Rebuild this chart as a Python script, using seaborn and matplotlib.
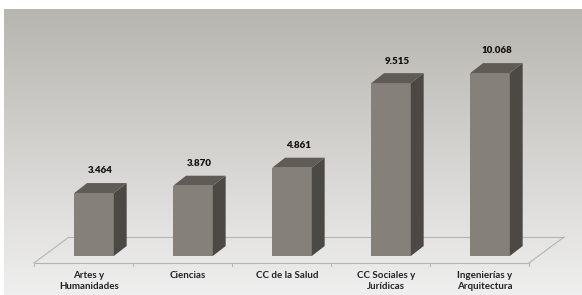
import numpy as np
import matplotlib
matplotlib.use("Agg")
import matplotlib.pyplot as plt
from matplotlib.patches import Polygon
import seaborn as sns

# Data
categories = ["Artes y\nHumanidades", "Ciencias", "CC de la Salud",
              "CC Sociales y\nJurídicas", "Ingenierías y\nArquitectura"]
values = [3464, 3870, 4861, 9515, 10068]
value_labels = ["3.464", "3.870", "4.861", "9.515", "10.068"]

# Colours
front_col = "#858079"
side_col = "#4c4944"
top_col = "#5f5b56"
floor_col = "#b4b4b4"

sns.set_theme(style="white")
plt.rcParams["font.family"] = ["Lato", "DejaVu Sans"]

fig = plt.figure(figsize=(5.82, 2.95), dpi=100)

# gradient background panel
bg = fig.add_axes([4 / 582, 0, 578 / 582, 286 / 295], zorder=0)
grad = np.linspace(0, 1, 256).reshape(-1, 1)
cmap = matplotlib.colors.LinearSegmentedColormap.from_list("bg", ["#b7b5af", "#d4d3d0", "#efefef"])
bg.imshow(grad, aspect="auto", cmap=cmap, extent=[0, 1, 0, 1], origin="upper")
bg.set_axis_off()

ax = fig.add_axes([44.5 / 582, 39 / 295, 495 / 582, 218 / 295], zorder=1)
ax.patch.set_alpha(0)
sns.barplot(x=list(range(len(values))), y=values, color=front_col, width=0.4,
            saturation=1, edgecolor=front_col, linewidth=0, ax=ax, zorder=3)
ax.set_xlim(-0.5, 4.5)
ax.set_ylim(0, 12000)

# 3D depth offsets (data units)
dx, dy = 0.13, 550

# floor
fx0, fy0 = -0.606, -385   # front-left
fdx, fdy = 0.354, 1430    # depth of floor
n = len(values)
floor_kw = dict(color=floor_col, lw=0.8, clip_on=False, zorder=1)
ax.plot([fx0, fx0 + n], [fy0, fy0], **floor_kw)
ax.plot([fx0 + fdx, fx0 + n + fdx], [fy0 + fdy, fy0 + fdy], **floor_kw)
ax.plot([fx0, fx0 + fdx], [fy0, fy0 + fdy], **floor_kw)
ax.plot([fx0 + n, fx0 + n + fdx], [fy0, fy0 + fdy], **floor_kw)
for k in range(n + 1):
    ax.plot([fx0 + k, fx0 + k], [fy0, fy0 - 180], **floor_kw)

for p, lab in zip(ax.patches, value_labels):
    x0, w, h = p.get_x(), p.get_width(), p.get_height()
    x1 = x0 + w
    side = Polygon([[x1, 0], [x1 + dx, dy], [x1 + dx, h + dy], [x1, h]],
                   closed=True, facecolor=side_col, edgecolor="none", zorder=3, clip_on=False)
    top = Polygon([[x0, h], [x1, h], [x1 + dx, h + dy], [x0 + dx, h + dy]],
                  closed=True, facecolor=top_col, edgecolor="none", zorder=3, clip_on=False)
    ax.add_patch(side)
    ax.add_patch(top)
    ax.text(x0 + (w + dx) / 2, h + dy + 420, lab, ha="center", va="bottom",
            fontsize=7, fontweight="heavy", color="#111111", clip_on=False)

ax.set_xticks([i - 0.05 for i in range(n)])
ax.set_xticklabels(categories, fontsize=7, fontweight="bold", color="#222222", linespacing=1.3)
ax.tick_params(axis="x", length=0, pad=10.5)
ax.set_yticks([])
ax.set_xlabel("")
ax.set_ylabel("")
sns.despine(ax=ax, left=True, bottom=True)

fig.savefig("out.png", dpi=100)
